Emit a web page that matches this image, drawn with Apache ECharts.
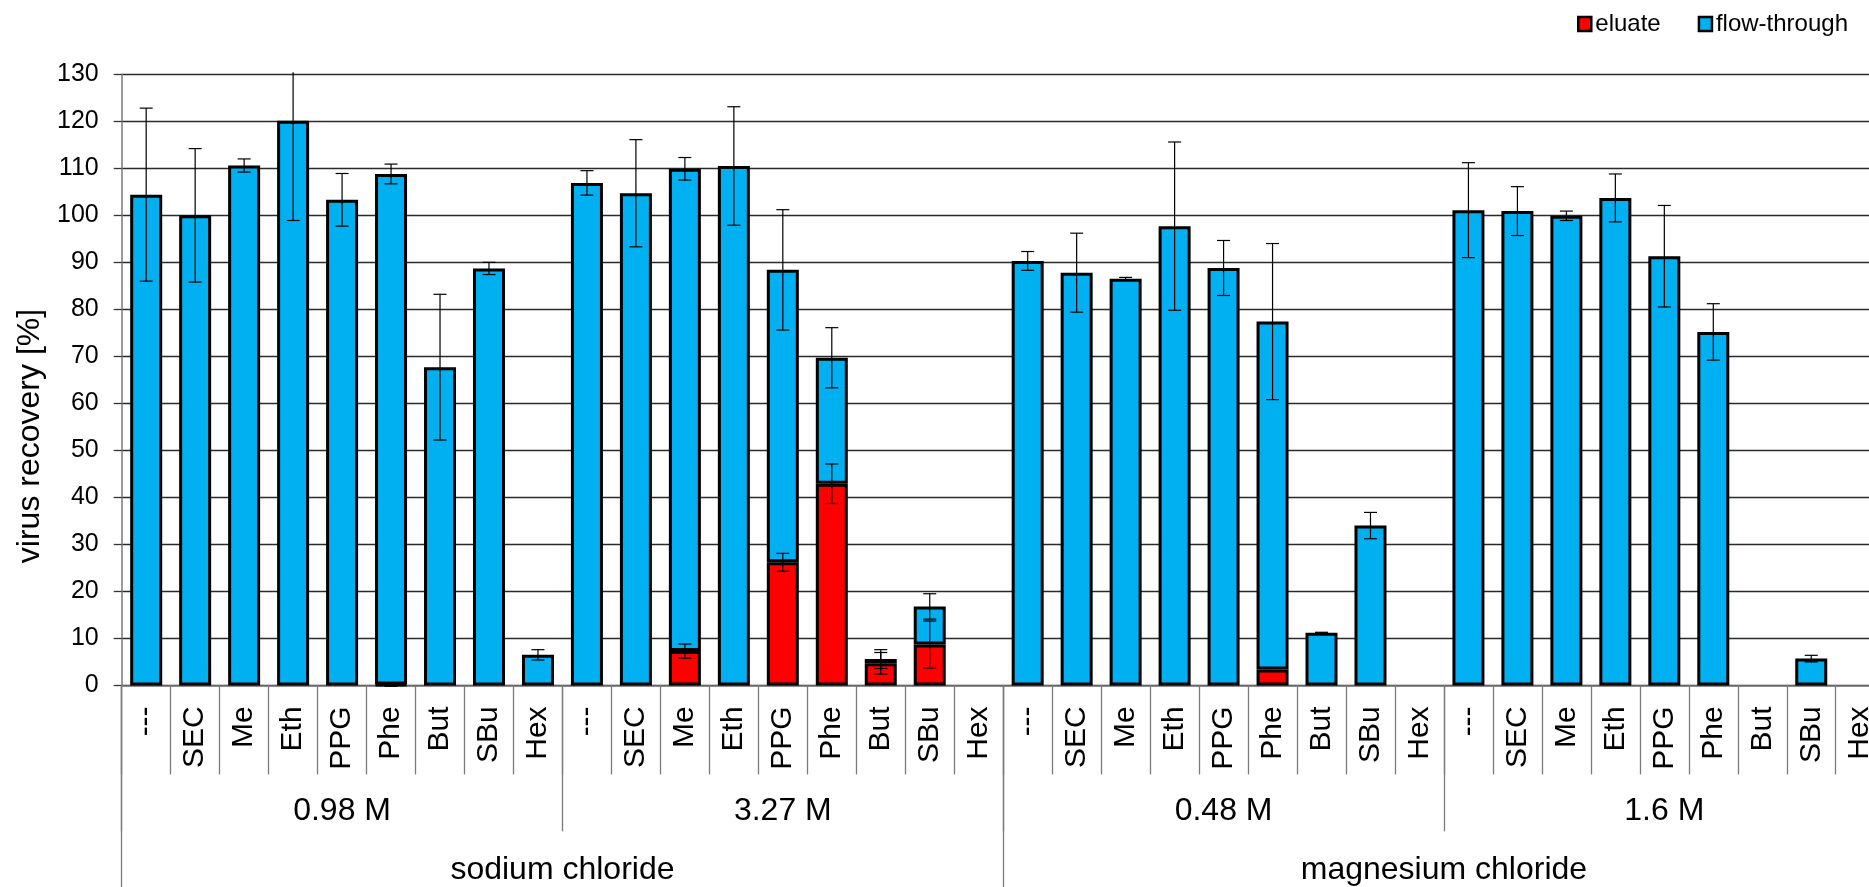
<!DOCTYPE html>
<html>
<head>
<meta charset="utf-8">
<script src="https://cdn.jsdelivr.net/npm/echarts@6/dist/echarts.min.js"></script>
<style>
html,body{margin:0;padding:0;background:#fff;overflow:hidden;}
#chart{width:1869px;height:887px;}
</style>
</head>
<body>
<div id="chart"></div>
<script>
const categories = ['---','SEC','Me','Eth','PPG','Phe','But','SBu','Hex'];
const concentrations = ['0.98 M','3.27 M','0.48 M','1.6 M'];
const salts = ['sodium chloride','magnesium chloride'];
const yTicks = {min: 0, max: 130, interval: 10};

// eluate (red, bottom of stack)
const eluate = [
  null, null, null, null, null, 0.2, null, null, null,
  null, null, 7.3, null, 26.2, 42.9, 4.7, 8.7, null,
  null, null, null, null, null, 3.4, null, null, null,
  null, null, null, null, null, null, null, null, null
];
const eluateErr = [
  null, null, null, null, null, 0.4, null, null, null,
  null, null, 1.5, null, 1.9, 4.2, 2.3, 5.0, null,
  null, null, null, null, null, null, null, null, null,
  null, null, null, null, null, null, null, null, null
];
// flow-through (blue, stacked on top of eluate)
const flowThrough = [
  104.4, 100.0, 110.6, 120.1, 103.3, 108.6, 67.7, 88.7, 6.5,
  106.9, 104.7, 102.6, 110.5, 62.2, 26.8, 0.9, 8.1, null,
  90.3, 87.8, 86.5, 97.7, 88.8, 74.0, 11.2, 34.0, null,
  101.1, 100.9, 99.9, 103.7, 91.3, 75.2, null, 5.7, null
];
const flowErr = [
  18.4, 14.2, 1.4, 21.2, 5.6, 2.1, 15.5, 1.3, 1.1,
  2.6, 11.4, 2.4, 12.6, 12.8, 6.4, 2.0, 2.7, null,
  2.0, 8.4, 0.3, 17.9, 5.85, 16.6, 0.1, 2.8, null,
  10.1, 5.2, 1.0, 5.1, 10.8, 6.0, null, 0.7, null
];

const FONT = "'Liberation Sans', Arial, sans-serif";
const allCats = [];
concentrations.forEach(() => categories.forEach(c => allCats.push(c)));

const errData = [];
for (let i = 0; i < allCats.length; i++) {
  if (eluate[i] != null && eluateErr[i] != null) errData.push([i, eluate[i], eluateErr[i]]);
  if (flowThrough[i] != null && flowErr[i] != null) errData.push([i, (eluate[i] || 0) + flowThrough[i], flowErr[i]]);
}

function renderErr(params, api) {
  const idx = api.value(0), v = api.value(1), e = api.value(2);
  const hi = api.coord([idx, v + e]);
  const lo = api.coord([idx, v - e]);
  const cs = params.coordSys;
  const x = hi[0];
  let top = hi[1], capTop = true;
  if (top < cs.y) { top = cs.y - 2; capTop = false; }
  const st = {stroke: '#000', lineWidth: 1.2};
  const ch = [{type: 'line', shape: {x1: x, y1: top, x2: x, y2: lo[1]}, style: st}];
  const hw = 6.5;
  if (capTop) ch.push({type: 'line', shape: {x1: x - hw, y1: hi[1], x2: x + hw, y2: hi[1]}, style: st});
  ch.push({type: 'line', shape: {x1: x - hw, y1: lo[1], x2: x + hw, y2: lo[1]}, style: st});
  return {type: 'group', children: ch};
}

const chart = echarts.init(document.getElementById('chart'), null, {renderer: 'canvas'});
chart.setOption({
  animation: false,
  backgroundColor: '#fff',
  textStyle: {fontFamily: FONT},
  grid: {left: 121.7, width: 1763, top: 74.3, height: 611.1, containLabel: false, outerBoundsMode: 'none'},
  legend: {
    data: ['eluate', 'flow-through'],
    right: 16, top: 7,
    icon: 'rect', itemWidth: 13, itemHeight: 14, itemGap: 37,
    itemStyle: {borderColor: '#000', borderWidth: 2.5},
    textStyle: {fontSize: 24, color: '#000', fontFamily: FONT, padding: [0, 0, 0, -1]}
  },
  graphic: [{
    type: 'text', x: 30, y: 436, rotation: Math.PI / 2,
    style: {text: 'virus recovery [%]', font: '32px ' + FONT, fill: '#000', align: 'center', verticalAlign: 'middle'}
  }],
  xAxis: [
    {
      type: 'category', data: allCats, position: 'bottom', gridIndex: 0,
      axisLine: {show: true, lineStyle: {color: '#7a7a7a', width: 1.5}},
      axisTick: {show: true, interval: 0, length: 89, lineStyle: {color: '#7a7a7a', width: 1.3}},
      axisLabel: {interval: 0, rotate: 90, fontSize: 30, margin: 21, color: '#000', fontFamily: FONT, hideOverlap: false}
    },
    {
      type: 'category', data: concentrations, position: 'bottom', gridIndex: 0,
      axisLine: {show: false},
      axisTick: {show: true, interval: 0, length: 146, lineStyle: {color: '#7a7a7a', width: 1.3}},
      axisLabel: {interval: 0, fontSize: 32, margin: 110, color: '#000', fontFamily: FONT}
    },
    {
      type: 'category', data: salts, position: 'bottom', gridIndex: 0,
      axisLine: {show: false},
      axisTick: {show: true, interval: 0, length: 230, lineStyle: {color: '#7a7a7a', width: 1.3}},
      axisLabel: {interval: 0, fontSize: 32, margin: 169, color: '#000', fontFamily: FONT}
    }
  ],
  yAxis: {
    type: 'value', min: yTicks.min, max: yTicks.max, interval: yTicks.interval,
    axisLine: {show: true, lineStyle: {color: '#7a7a7a', width: 1.5}},
    axisTick: {show: true, length: 8, lineStyle: {color: '#333', width: 1.3}},
    axisLabel: {fontSize: 25, margin: 23, color: '#000', fontFamily: FONT},
    splitLine: {show: true, lineStyle: {color: '#2a2a2a', width: 1.3}}
  },
  series: [
    {
      name: 'eluate', type: 'bar', stack: 'total', xAxisIndex: 0, data: eluate,
      barWidth: 32,
      itemStyle: {color: '#FF0000', borderColor: '#000', borderWidth: 3}
    },
    {
      name: 'flow-through', type: 'bar', stack: 'total', xAxisIndex: 0, data: flowThrough,
      barWidth: 32,
      itemStyle: {color: '#00B0F0', borderColor: '#000', borderWidth: 3}
    },
    {
      name: 'error', type: 'custom', xAxisIndex: 0, data: errData,
      renderItem: renderErr, z: 10, silent: true,
      encode: {x: 0, y: [1, 2]}
    }
  ]
});
</script>
</body>
</html>
